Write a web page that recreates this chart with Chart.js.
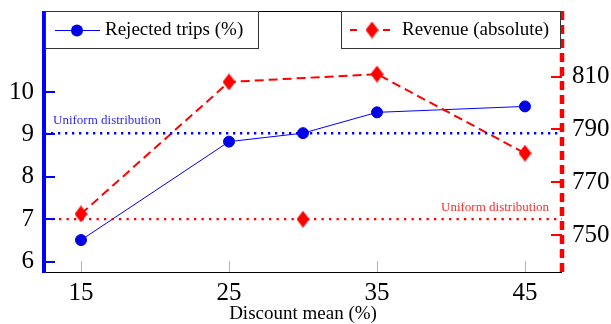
<!DOCTYPE html>
<html><head><meta charset="utf-8">
<script src="https://cdn.jsdelivr.net/npm/chart.js@4"></script>
<style>html,body{margin:0;padding:0;background:#fff}#wrap{width:611px;height:324px;position:relative}</style>
</head><body><div id="wrap"><canvas id="c"></canvas></div>
<script>
// ---- data ----
const discountMeans = [15, 25, 30, 35, 45];
const rejectedTrips = [6.51, 8.83, 9.03, 9.52, 9.66];
const revenueMeans = [15, 25, 35, 45];
const revenue = [758, 808, 811, 781];
const uniformMean = [30];
const uniformRevenue = [756];
const uniformRejected = 9.03;
const uniformRevenueLevel = 756;
const xTicks = [15, 25, 35, 45];
const yLeftTicks = [6, 7, 8, 9, 10];
const yRightTicks = [750, 770, 790, 810];
const xRange = [12.5, 47.5];
const yLeftRange = [5.757, 11.909];
const yRightRange = [736.0, 834.9];
const labels = {
  x: 'Discount mean (%)',
  rejected: 'Rejected trips (%)',
  revenue: 'Revenue (absolute)',
  uniform: 'Uniform distribution'
};

const SERIF = "Liberation Serif";
const BLUE = '#0000ff', RED = '#ff0000';

function makeDiamond(w, h, color) {
  const c = document.createElement('canvas'); c.width = w; c.height = h;
  const g = c.getContext('2d'); g.fillStyle = color;
  g.beginPath(); g.moveTo(w / 2, 0); g.lineTo(w, h / 2); g.lineTo(w / 2, h); g.lineTo(0, h / 2); g.closePath(); g.fill();
  return c;
}
const diamond = makeDiamond(13, 17, RED);

const toPts = (xs, ys) => xs.map((x, i) => ({ x, y: ys[i] }));

const framePlugin = {
  id: 'frame',
  afterDatasetsDraw(chart) {
    const { ctx, chartArea: a, scales } = chart;
    ctx.save();
    // gray x ticks
    ctx.strokeStyle = '#b4b4b4'; ctx.lineWidth = 1;
    xTicks.forEach(v => {
      const px = Math.round(scales.x.getPixelForValue(v)) + 0.5;
      ctx.beginPath(); ctx.moveTo(px, a.bottom); ctx.lineTo(px, a.bottom - 11); ctx.stroke();
    });
    // top & bottom lines
    ctx.strokeStyle = '#000'; ctx.lineWidth = 1;
    ctx.beginPath();
    ctx.moveTo(a.left, a.top + 0.5); ctx.lineTo(a.right, a.top + 0.5);
    ctx.moveTo(a.left, a.bottom + 0.5); ctx.lineTo(a.right, a.bottom + 0.5);
    ctx.stroke();
    // left ticks
    ctx.strokeStyle = BLUE; ctx.lineWidth = 2;
    yLeftTicks.forEach(v => {
      const py = Math.round(scales.y.getPixelForValue(v));
      ctx.beginPath(); ctx.moveTo(a.left, py); ctx.lineTo(a.left + 11, py); ctx.stroke();
    });
    // right ticks
    ctx.strokeStyle = RED;
    yRightTicks.forEach(v => {
      const py = Math.round(scales.y1.getPixelForValue(v));
      ctx.beginPath(); ctx.moveTo(a.right - 11, py); ctx.lineTo(a.right, py); ctx.stroke();
    });
    // left axis solid blue
    ctx.strokeStyle = BLUE; ctx.lineWidth = 4;
    ctx.beginPath(); ctx.moveTo(a.left, a.top); ctx.lineTo(a.left, a.bottom + 1); ctx.stroke();
    // right axis dashed red
    ctx.strokeStyle = RED; ctx.lineWidth = 4.5; ctx.setLineDash([9, 5]);
    ctx.beginPath(); ctx.moveTo(a.right, a.top); ctx.lineTo(a.right, a.bottom + 1); ctx.stroke();
    ctx.setLineDash([]);

    // uniform labels
    ctx.font = '13px "' + SERIF + '"';
    ctx.textBaseline = 'alphabetic';
    ctx.fillStyle = '#2a2aff'; ctx.textAlign = 'left';
    ctx.fillText(labels.uniform, a.left + 9, scales.y.getPixelForValue(uniformRejected) - 9);
    ctx.fillStyle = '#ff2a2a'; ctx.textAlign = 'right';
    ctx.fillText(labels.uniform, a.right - 13, scales.y1.getPixelForValue(uniformRevenueLevel) - 8);

    // axis title
    ctx.fillStyle = '#000'; ctx.textAlign = 'center';
    ctx.font = '19px "' + SERIF + '"';
    ctx.fillText(labels.x, (a.left + a.right) / 2, 319);

    // legends
    const drawBox = (x0, x1) => {
      ctx.fillStyle = '#fff'; ctx.fillRect(x0, a.top + 1, x1 - x0, 36);
      ctx.strokeStyle = '#333'; ctx.lineWidth = 1;
      ctx.strokeRect(x0 + 0.5, a.top + 0.5, x1 - x0, 37);
    };
    const ly = a.top + 19;
    drawBox(45, 258);
    ctx.strokeStyle = BLUE; ctx.lineWidth = 1;
    ctx.beginPath(); ctx.moveTo(55, ly + 0.5); ctx.lineTo(100, ly + 0.5); ctx.stroke();
    ctx.fillStyle = '#0000e6';
    ctx.beginPath(); ctx.arc(77, ly + 0.5, 6, 0, Math.PI * 2); ctx.fill();
    ctx.fillStyle = '#000'; ctx.textAlign = 'left'; ctx.font = '19px "' + SERIF + '"';
    ctx.fillText(labels.rejected, 105, ly + 4.5);

    drawBox(341, 560);
    ctx.strokeStyle = RED; ctx.lineWidth = 2;
    ctx.beginPath(); ctx.moveTo(350, ly); ctx.lineTo(357, ly); ctx.moveTo(383, ly); ctx.lineTo(390, ly); ctx.stroke();
    ctx.drawImage(diamond, 372 - diamond.width / 2, ly - diamond.height / 2);
    ctx.fillStyle = '#000';
    ctx.fillText(labels.revenue, 402, ly + 4.5);
    ctx.restore();
  }
};

const tickFont = { family: SERIF, size: 25 };
const noPadV = s => { s.paddingTop = 0; s.paddingBottom = 0; };

new Chart(document.getElementById('c'), {
  type: 'line',
  data: {
    datasets: [
      { label: 'uniform-rejected', data: toPts(xRange, [uniformRejected, uniformRejected]), yAxisID: 'y',
        borderColor: BLUE, borderWidth: 2.5, borderDash: [2.3, 4.7], pointRadius: 0, fill: false },
      { label: 'uniform-revenue', data: toPts(xRange, [uniformRevenueLevel, uniformRevenueLevel]), yAxisID: 'y1',
        borderColor: RED, borderWidth: 2.2, borderDash: [2.3, 5.2], pointRadius: 0, fill: false },
      { label: labels.revenue, data: toPts(revenueMeans, revenue), yAxisID: 'y1',
        borderColor: RED, borderWidth: 2, borderDash: [9, 5], pointStyle: diamond, pointRadius: 8, fill: false, tension: 0 },
      { label: 'uniform-revenue-point', data: toPts(uniformMean, uniformRevenue), yAxisID: 'y1', showLine: false,
        pointStyle: diamond, pointRadius: 8 },
      { label: labels.rejected, data: toPts(discountMeans, rejectedTrips), yAxisID: 'y',
        borderColor: BLUE, borderWidth: 1, pointStyle: 'circle', pointRadius: 5.5, pointBorderWidth: 1,
        pointBackgroundColor: '#0000e6', pointBorderColor: '#0000e6', fill: false, tension: 0 }
    ]
  },
  options: {
    responsive: true, maintainAspectRatio: false, animation: false,
    layout: { padding: { top: 11, left: 0, right: 0, bottom: 0 } },
    plugins: { legend: { display: false }, tooltip: { enabled: false } },
    scales: {
      x: {
        type: 'linear', min: xRange[0], max: xRange[1],
        afterBuildTicks: s => { s.ticks = xTicks.map(v => ({ value: v })); },
        afterFit: s => { s.height = 52; s.paddingLeft = 0; s.paddingRight = 0; },
        grid: { display: false, drawTicks: false }, border: { display: false },
        ticks: { font: tickFont, color: '#000', padding: 6, maxRotation: 0, autoSkip: false }
      },
      y: {
        type: 'linear', position: 'left', min: yLeftRange[0], max: yLeftRange[1],
        afterBuildTicks: s => { s.ticks = yLeftTicks.map(v => ({ value: v })); },
        afterFit: s => { s.width = 44; noPadV(s); },
        grid: { display: false, drawTicks: false }, border: { display: false },
        ticks: { font: tickFont, color: '#000', padding: 10, autoSkip: false }
      },
      y1: {
        type: 'linear', position: 'right', min: yRightRange[0], max: yRightRange[1],
        afterBuildTicks: s => { s.ticks = yRightTicks.map(v => ({ value: v })); },
        afterFit: s => { s.width = 49; noPadV(s); },
        grid: { display: false, drawTicks: false }, border: { display: false },
        ticks: { font: tickFont, color: '#000', padding: 10, autoSkip: false }
      }
    }
  },
  plugins: [framePlugin]
});
</script>
</body></html>
